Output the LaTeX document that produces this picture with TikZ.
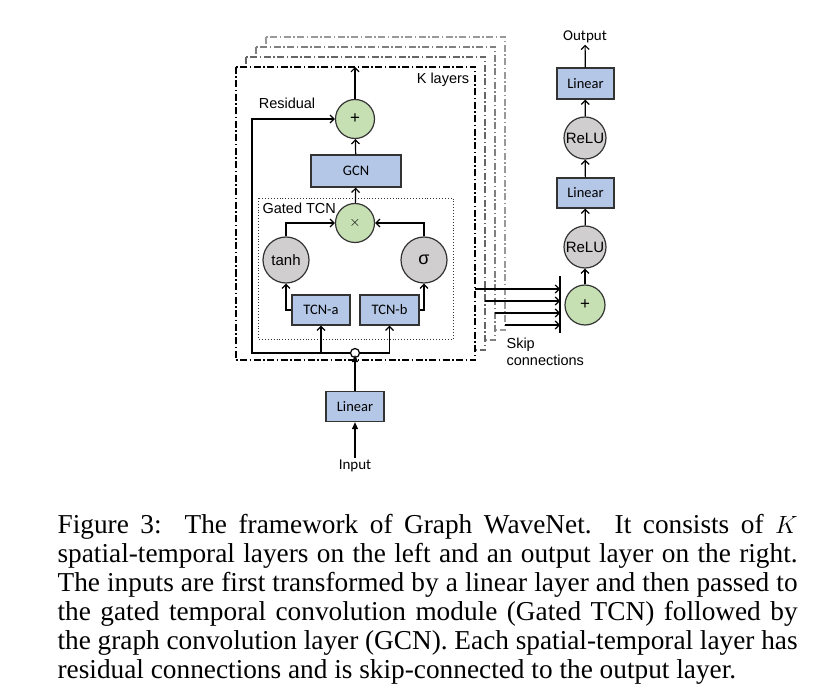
\documentclass[tikz,border=0pt]{standalone}
\usepackage{fontspec}
\setmainfont{Liberation Serif}
\setsansfont{Liberation Sans}
\newfontfamily\calfont{Carlito}
\usetikzlibrary{arrows.meta}
\newlength{\du}
\setlength{\du}{1pt}
\definecolor{boxblue}{RGB}{180,199,231}
\definecolor{opgreen}{RGB}{198,224,180}
\definecolor{actgray}{RGB}{208,206,206}
\begin{document}
\begin{tikzpicture}[
  line width=1.2\du,
  arr/.style={-{Straight Barb[length=4pt,width=8pt]}},
  tri/.style={-{Triangle[length=7pt,width=6pt]}},
  layerframe/.style={dash pattern=on 7pt off 2.5pt on 1.5pt off 2.5pt, fill=white},
  box/.style={draw=black!80, line width=1.3\du, fill=boxblue, minimum width=58\du, minimum height=30\du, inner sep=0pt, font=\calfont\fontsize{14.5}{15}\selectfont},
  opnode/.style={circle, draw=black!80, fill=opgreen, minimum size=39\du, inner sep=0pt, font=\sffamily\fontsize{17}{18}\selectfont},
  actnode/.style={circle, draw=black!80, fill=actgray, minimum size=44\du, inner sep=0pt, font=\sffamily\fontsize{15}{16}\selectfont},
  lbl/.style={inner sep=0pt, font=\sffamily\fontsize{14.5}{17}\selectfont},
]
\pgftransformxscale{1.000000}
\pgftransformyscale{-1.000000}
\useasboundingbox (0\du,0\du) rectangle (823\du,698\du);
% layer frames, back to front
\foreach \k/\c in {3/black!40, 2/black!50, 1/black!60}{
  \draw[layerframe, draw=\c] ({(236+10*\k)*\du},{(67-10*\k)*\du}) rectangle ({(475+10*\k)*\du},{(360-10*\k)*\du});
  \coordinate (skip\k) at ({(475+10*\k)*\du},{(289+12*\k)*\du});
}
\draw[layerframe, draw=black] (236\du,67\du) rectangle (475\du,360\du);
\coordinate (skip0) at (475\du,289\du);
\coordinate (ktop) at (355\du,67\du);
\node[lbl] (klayers) at (443\du,80\du){K layers};
% gated tcn block
\draw[black!80, line width=0.9\du, dotted] (258\du,198\du) rectangle (453\du,339\du);
\node[lbl, anchor=west] (gated) at (262\du,208\du){Gated TCN};
\node[opnode] (plusA) at (355\du,119\du){+};
\node[box, minimum width=90\du, minimum height=32\du] (gcn) at (356\du,171\du){GCN};
\node[opnode, font=\fontsize{15}{16}\selectfont] (times) at (355\du,223\du){$\times$};
\node[actnode, minimum size=46\du] (tanh) at (286\du,260\du){tanh};
\node[actnode, minimum size=46\du, font=\sffamily\fontsize{18}{19}\selectfont] (sig) at (424\du,260\du){σ};
\node[box] (tcnA) at (321\du,310\du){TCN-a};
\node[box, minimum width=59\du] (tcnB) at (389.5\du,310\du){TCN-b};
\node[circle, draw=black, fill=white, minimum size=9\du, inner sep=0pt] (junc) at (355\du,353\du){};
\coordinate (resid) at (252\du,353\du);
\node[lbl] (residual) at (287\du,103\du){Residual};
% input side
\node[box] (lin) at (355\du,406.5\du){Linear};
\node[inner sep=1pt, font=\calfont\fontsize{15}{16}\selectfont] (input) at (355\du,466\du){Input};
% output layer
\node[opnode, minimum size=40\du] (plusB) at (585\du,305\du){+};
\node[actnode, minimum size=42\du] (reluA) at (585\du,247\du){ReLU};
\node[box, minimum width=57\du] (linA) at (585.5\du,193\du){Linear};
\node[actnode, minimum size=42\du] (reluB) at (585\du,138\du){ReLU};
\node[box, minimum width=57\du, minimum height=31\du] (linB) at (585.5\du,83.5\du){Linear};
\node[inner sep=1pt, font=\calfont\fontsize{15}{16}\selectfont] (output) at (585\du,37\du){Output};
\coordinate (bartop) at (560\du,276\du);
\coordinate (barbot) at (560\du,333\du);
\node[lbl, anchor=north west, align=left] (skiplbl) at (506\du,337\du){Skip\\connections};
% connectors
\draw[arr] (plusA) -- (ktop);
\draw[arr] (gcn) -- (plusA);
\draw[arr] (times) -- (gcn);
\draw[arr] (tanh) |- (times);
\draw[arr] (sig) |- (times);
\draw[arr] (tcnA.west) -| (tanh);
\draw[arr] (tcnB.east) -| (sig);
\draw[arr] (junc.west) -| (tcnA);
\draw[arr] (junc.east) -| (tcnB);
\draw[arr] (junc.west) -- (resid) |- (plusA);
\draw[tri, shorten >=-3pt] (lin) -- (junc);
\draw[tri] (input) -- (lin);
\draw (bartop) -- (barbot);
\foreach \k in {0,...,3}{
  \draw[arr] (skip\k) -- (skip\k -| bartop);
}
\draw[arr] (plusB) -- (reluA);
\draw[arr] (reluA) -- (linA);
\draw[arr] (linA) -- (reluB);
\draw[arr] (reluB) -- (linB);
\draw[arr] (linB) -- (output);
% caption
\node[anchor=north west, inner sep=0pt, text width=740\du, align=justify, font=\fontsize{27.3}{29}\selectfont] (caption) at (57\du,514\du){Figure 3:\ \ The framework of Graph WaveNet.\ \ It consists of $K$\linebreak spatial-temporal layers on the left and an output layer on the right.\linebreak The inputs are first transformed by a linear layer and then passed to\linebreak the gated temporal convolution module (Gated TCN) followed by\linebreak the graph convolution layer (GCN). Each spatial-temporal layer has\linebreak residual connections and is skip-connected to the output layer.};
\end{tikzpicture}
\end{document}
